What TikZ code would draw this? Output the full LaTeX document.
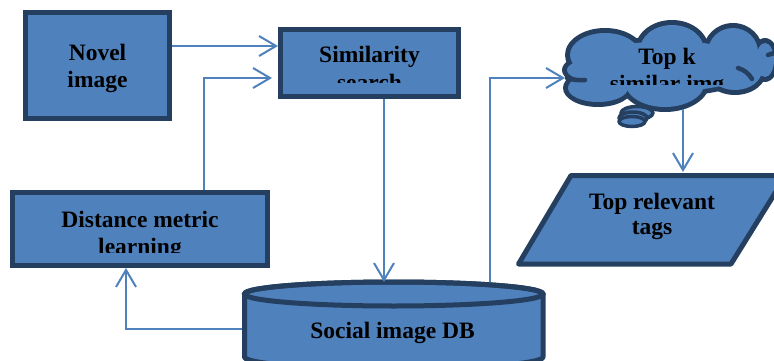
\documentclass[tikz,border=0pt]{standalone}
\usepackage{fontspec}
\setmainfont{Liberation Serif}
\usetikzlibrary{arrows.meta}
\definecolor{fillblue}{HTML}{4F81BD}
\definecolor{edgeblue}{HTML}{243F60}
\definecolor{linkblue}{HTML}{4F81BD}
\tikzset{
  box/.style={draw=edgeblue, fill=fillblue, line width=5pt, rectangle, inner sep=0pt},
  shapefill/.style={draw=edgeblue, fill=fillblue, line width=5pt, line join=round},
  lbl/.style={font=\fontsize{23.5}{27}\selectfont\bfseries, inner sep=0pt, text=black},
  link/.style={draw=linkblue, line width=2pt},
  arr/.style={link, -{Straight Barb[length=17pt, width=20pt]}},
  curl/.style={draw=edgeblue, line width=4.5pt, line cap=round}
}
\begin{document}
\begin{tikzpicture}[x=1pt,y=-1pt]
\useasboundingbox (0,0) rectangle (774,361);
\clip (0,0) rectangle (774,361);

% boxes
\node[box, minimum width=144pt, minimum height=106pt] (novel) at (97.5,65.5) {};
\node[box, minimum width=178pt, minimum height=67pt] (sim) at (369.5,63) {};
\node[box, minimum width=255pt, minimum height=73pt] (dist) at (140,229) {};

% cylinder
\path[shapefill] (244.5,294) -- (244.5,357) arc[start angle=180, end angle=360, x radius=149.25pt, y radius=12pt]
  -- (543,294) arc[start angle=0, end angle=180, x radius=149.25pt, y radius=12pt] -- cycle;
\draw[draw=edgeblue, line width=5pt] (393.75,294) ellipse[x radius=149.25pt, y radius=12pt];
\coordinate (dbtop) at (393.75,282);
\coordinate (dbleft) at (242,329);

% parallelogram
\path[shapefill] (571,175.5) -- (786,175.5) -- (731,264) -- (518.5,264) -- cycle;
\coordinate (tagstop) at (683,172);

% cloud: union of elliptic puffs, border layer then fill layer
% x / y / outer rx / outer ry / inner rx / inner ry
\def\puffs{605/55/40/27/35/22, 672/50/37/30/32/25, 733/52/30/29/25/24, 765/60/14/22/9/17,
  590/70/28/15/23/10, 598/88/35/19/30/14, 665/82/45/30/40/25, 735/70/32/25/27/20,
  760/66/18/15/13/10, 670/66/90/30/85/25}
\foreach \x/\y/\a/\b/\c/\d in \puffs { \fill[edgeblue] (\x,\y) ellipse[x radius=\a pt, y radius=\b pt]; }
\foreach \x/\y/\a/\b/\c/\d in \puffs { \fill[fillblue] (\x,\y) ellipse[x radius=\c pt, y radius=\d pt]; }
\coordinate (cloudleft) at (562,78);
\coordinate (cloudbottom) at (683,109);
\draw[curl] (567,78) to[bend right=10] (585,80);
\draw[curl] (738,68) to[bend left=20] (752,79);
\draw[curl] (768,55) -- (774,53);
\path[shapefill, line width=3.5pt] (637,113) ellipse[x radius=16pt, y radius=6.5pt];
\path[shapefill, line width=3.5pt] (633,118) ellipse[x radius=14pt, y radius=6pt];
\path[shapefill, line width=3.5pt] (632,121.5) ellipse[x radius=13pt, y radius=5pt];

% texts
\node[lbl, anchor=base] (t1a) at (97.5,61) {Novel};
\node[lbl, anchor=base] (t1b) at (97.5,88) {image};
\node[lbl, anchor=base] (t2a) at (369.5,63) {Similarity};
\begin{scope}
  \clip (280,60) rectangle (460,83);
  \node[lbl, anchor=base] (t2b) at (369.5,90) {search};
\end{scope}
\node[lbl, anchor=base] (t3a) at (140,227) {Distance metric};
\begin{scope}
  \clip (12,230) rectangle (268,252);
  \node[lbl, anchor=base] (t3b) at (140,254) {learning};
\end{scope}
\node[lbl, anchor=base] (t4) at (392.5,338) {Social image DB};
\node[lbl, anchor=base] (t5a) at (667,65) {Top k};
\begin{scope}
  \clip (560,68) rectangle (774,85);
  \node[lbl, anchor=base] (t5b) at (667,92) {similar img};
\end{scope}
\node[lbl, anchor=base] (t6a) at (652,209) {Top relevant};
\node[lbl, anchor=base] (t6b) at (652,234) {tags};

% connectors
\coordinate (n1) at (172,46);
\coordinate (s1) at (278,46);
\draw[arr] (n1) -- (s1);
\coordinate (d1) at (204,190);
\coordinate (d2) at (204,78);
\coordinate (s2) at (272,78);
\draw[arr] (d1) -- (d2) -- (s2);
\coordinate (s3) at (384,99);
\draw[arr] (s3) -- (s3 |- dbtop);
\coordinate (b1) at (126,329);
\coordinate (b2) at (126,268);
\draw[arr] (dbleft) -- (b1) -- (b2);
\coordinate (e1) at (490,282);
\coordinate (e2) at (490,78);
\coordinate (c1) at (565,78);
\draw[arr] (e1) -- (e2) -- (c1);
\draw[arr] (cloudbottom) -- (tagstop);
\end{tikzpicture}
\end{document}
